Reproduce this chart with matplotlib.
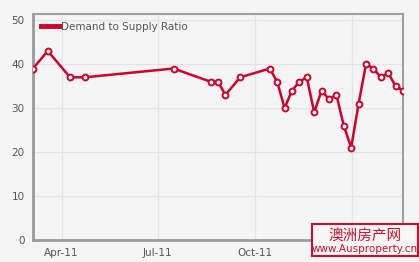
import matplotlib
matplotlib.use("Agg")
import matplotlib.pyplot as plt
import pandas as pd
from matplotlib.patches import Rectangle

dates = ["2011-03-05", "2011-03-19", "2011-04-09", "2011-04-23", "2011-07-16",
         "2011-08-20", "2011-08-27", "2011-09-03", "2011-09-17", "2011-10-15",
         "2011-10-22", "2011-10-29", "2011-11-05", "2011-11-12", "2011-11-19",
         "2011-11-26", "2011-12-03", "2011-12-10", "2011-12-17", "2011-12-24",
         "2011-12-31", "2012-01-07", "2012-01-14", "2012-01-21", "2012-01-28",
         "2012-02-04", "2012-02-11", "2012-02-18"]
ratio = [39, 43, 37, 37, 39, 36, 36, 33, 37, 39, 36, 30, 34, 36, 37, 29, 34, 32,
         33, 26, 21, 31, 40, 39, 37, 38, 35, 34]
series_name = "Demand to Supply Ratio"
xticks = ["2011-04-01", "2011-07-01", "2011-10-01", "2012-01-01"]
xtick_labels = ["Apr-11", "Jul-11", "Oct-11", ""]  # Jan-12 hidden by watermark
yticks = [0, 10, 20, 30, 40, 50]

x = pd.to_datetime(dates)
bg = "#f5f5f5"
red = "#d2002c"
fig = plt.figure(figsize=(4.19, 2.62), dpi=100, facecolor=bg)
ax = fig.add_axes([33/419, 22/262, 370/419, 226/262], facecolor=bg)

ax.plot(x, ratio, color=red, lw=1.8, marker="o", ms=4.2, mfc="white",
        mec=red, mew=1.4, zorder=3, label=series_name)

ax.set_xlim(x[0], x[-1])
ax.set_ylim(0, 51.4)
ax.set_yticks(yticks)
ax.set_xticks(pd.to_datetime(xticks))
ax.set_xticklabels(xtick_labels)
ax.grid(True, color="#e4e4e4", lw=0.9)
ax.set_axisbelow(True)
ax.tick_params(length=0, colors="#555555", labelsize=7.5, pad=6)
for s in ["left", "bottom"]:
    ax.spines[s].set_color("#9a9a9a")
    ax.spines[s].set_linewidth(2)
for s in ["top", "right"]:
    ax.spines[s].set_color("#a0a0a0")
    ax.spines[s].set_linewidth(1.5)

leg = ax.legend(loc="upper left", frameon=False, fontsize=7.5,
                handlelength=1.8, handletextpad=0.1, borderaxespad=0.35,
                labelcolor="#555555")
for h in leg.get_lines():
    h.set_marker("")
    h.set_linewidth(3.5)

# watermark
fig.patches.append(Rectangle((312/419, 6/262), 106/419, 32/262,
                             transform=fig.transFigure, facecolor="#fbf6f6",
                             edgecolor="#c8102e", lw=1.5, zorder=10))
fig.text(365/419, 26.5/262, "澳洲房产网", color="#c8102e", fontsize=10.5,
         ha="center", va="center", family=["Noto Sans CJK SC", "DejaVu Sans"],
         zorder=11)
fig.text(365/419, 13/262, "www.Ausproperty.cn", color="#c8102e", fontsize=7.5,
         ha="center", va="center", zorder=11)

fig.savefig("out.png", dpi=100, facecolor=bg)
